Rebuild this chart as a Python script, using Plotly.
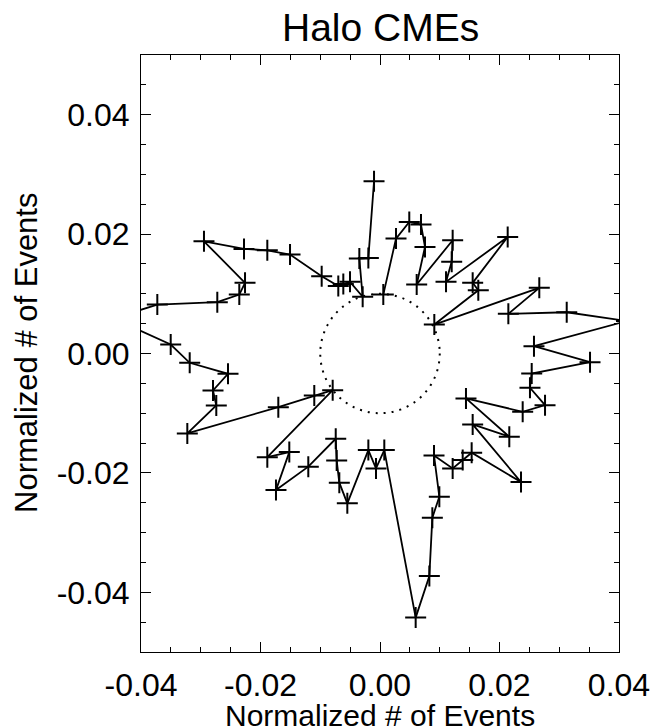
import plotly.graph_objects as go

# Points of the polar curve (in order of position angle)
x_vals = [-0.00100, -0.00195, -0.00346, -0.00290, -0.00502, -0.00614, -0.00698, -0.00976,
          -0.01506, -0.01886, -0.02276, -0.02946, -0.02259, -0.02355, -0.02723, -0.03727,
          -0.04455, -0.03503, -0.03185, -0.02544, -0.02795, -0.02740, -0.03225, -0.01702,
          -0.01100, -0.00792, -0.01886, -0.01518, -0.01741, -0.01200, -0.00741, -0.00725,
          -0.00681, -0.00547, -0.00195, -0.00067, 0.00072, 0.00597, 0.00826, 0.00876,
          0.00993, 0.00904, 0.01216, 0.01384, 0.01534, 0.02360, 0.01551, 0.02164,
          0.01439, 0.02388, 0.02762, 0.02510, 0.02539, 0.03515, 0.02577, 0.04126,
          0.03125, 0.02148, 0.02666, 0.00909, 0.01645, 0.01551, 0.02137, 0.01105,
          0.01200, 0.01216, 0.00614, 0.00753, 0.00686, 0.00490, 0.00268, 0.00055]
y_vals = [0.02884, 0.01601, 0.01590, 0.00950, 0.01200, 0.01163, 0.01129, 0.01294,
          0.01657, 0.01729, 0.01752, 0.01880, 0.01183, 0.00987, 0.00859, 0.00820,
          0.00587, 0.00151, -0.00156, -0.00340, -0.00619, -0.00870, -0.01339, -0.00899,
          -0.00703, -0.00614, -0.01736, -0.01652, -0.02288, -0.01896, -0.01428, -0.01791,
          -0.02164, -0.02510, -0.01618, -0.01925, -0.01618, -0.04424, -0.03727, -0.02750,
          -0.02398, -0.01707, -0.01925, -0.01786, -0.01662, -0.02154, -0.01188, -0.01394,
          -0.00753, -0.00976, -0.00865, -0.00574, -0.00335, -0.00145, 0.00123, 0.00544,
          0.00691, 0.00664, 0.01100, 0.00485, 0.01059, 0.01183, 0.01953, 0.01200,
          0.01535, 0.01897, 0.01155, 0.01786, 0.02159, 0.02204, 0.01925, 0.00987]

inner_radius = 0.01

tick_vals = [-0.04, -0.02, 0.00, 0.02, 0.04]
tick_text = ["-0.04", "-0.02", "0.00", "0.02", "0.04"]

title_text = "Halo CMEs"
axis_label = "Normalized # of Events"

FONT = "Liberation Sans, Arial, Helvetica, sans-serif"

fig = go.Figure()
fig.add_trace(go.Scatter(
    x=x_vals, y=y_vals, mode="lines+markers",
    line=dict(color="black", width=1.8),
    marker=dict(symbol="cross-thin", size=15, color="black",
                line=dict(color="black", width=2)),
    showlegend=False, cliponaxis=True,
))

fig.add_shape(type="circle", xref="x", yref="y",
              x0=-inner_radius, x1=inner_radius, y0=-inner_radius, y1=inner_radius,
              line=dict(color="black", width=2, dash="2px,6px"))

axis_common = dict(
    showline=True, linecolor="black", linewidth=1, mirror="allticks",
    ticks="inside", ticklen=10, tickwidth=1, tickcolor="black",
    tickvals=tick_vals, ticktext=tick_text,
    showgrid=False, zeroline=False,
    tickfont=dict(family=FONT, size=32, color="black"),
    minor=dict(dtick=0.005, tick0=0, ticks="inside", ticklen=5, tickwidth=1,
               tickcolor="black", showgrid=False),
)

fig.update_xaxes(range=[-0.04, 0.04], ticklabelstandoff=5, **axis_common)
fig.update_yaxes(range=[-0.05, 0.05], ticklabelstandoff=4, **axis_common)

fig.update_layout(
    width=670, height=728,
    margin=dict(l=141, r=51, t=55, b=76),
    paper_bgcolor="white", plot_bgcolor="white",
    font=dict(family=FONT, color="black"),
    annotations=[
        dict(text=title_text, xref="paper", yref="paper", x=0.5, y=1,
             yshift=4, xanchor="center", yanchor="bottom", showarrow=False,
             font=dict(family=FONT, size=39, color="black")),
        dict(text=axis_label, xref="paper", yref="paper", x=0.5, y=0,
             yshift=-45, xanchor="center", yanchor="top", showarrow=False,
             font=dict(family=FONT, size=30, color="black")),
        dict(text=axis_label, xref="paper", yref="paper", x=0, y=0.5,
             xshift=-134, xanchor="left", yanchor="middle", showarrow=False,
             textangle=-90,
             font=dict(family=FONT, size=31, color="black")),
    ],
)

fig.write_html("out.html",
               config={"displayModeBar": False},
               post_script="document.body.style.margin='0';document.body.style.overflow='hidden';")
